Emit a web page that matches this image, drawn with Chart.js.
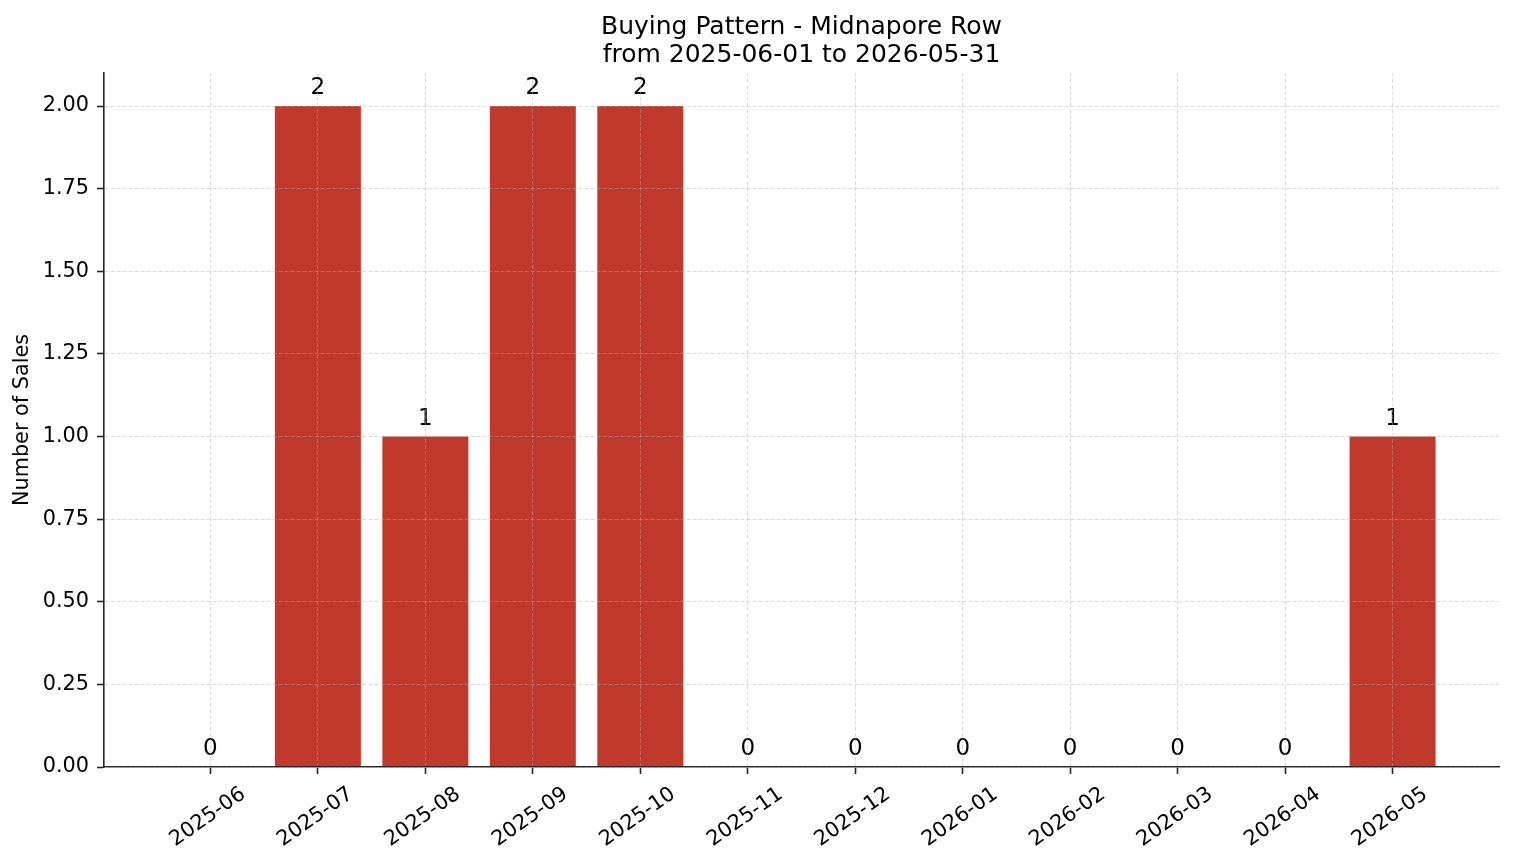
<!DOCTYPE html>
<html>
<head>
<meta charset="utf-8">
<title>Buying Pattern - Midnapore Row</title>
<script src="https://cdn.jsdelivr.net/npm/chart.js@4/dist/chart.umd.min.js"></script>
<style>
  html, body { margin: 0; padding: 0; background: #fff; }
  canvas { display: block; }
</style>
</head>
<body>
<canvas id="grafico" width="1514" height="863"></canvas>
<script>
  // datos
  const meses = ['2025-06', '2025-07', '2025-08', '2025-09', '2025-10', '2025-11',
                 '2025-12', '2026-01', '2026-02', '2026-03', '2026-04', '2026-05'];
  const ventas = [0, 2, 1, 2, 2, 0, 0, 0, 0, 0, 0, 1];
  const yTicks = [0, 0.25, 0.5, 0.75, 1, 1.25, 1.5, 1.75, 2];
  const tituloLineas = ['Buying Pattern - Midnapore Row', 'from 2025-06-01 to 2026-05-31'];

  const FONT = "'DejaVu Sans', 'Liberation Sans', sans-serif";
  const ROJO = '#c0392b';
  const EJE = '#262626';
  const GRID = 'rgba(176,176,176,0.45)';

  // titulo centrado sobre el area del grafico
  const tituloPlugin = {
    id: 'tituloCentrado',
    afterDraw(chart) {
      const { ctx, chartArea: { left, right } } = chart;
      const cx = (left + right) / 2;
      ctx.save();
      ctx.fillStyle = '#000';
      ctx.font = '25px ' + FONT;
      ctx.textAlign = 'center';
      ctx.textBaseline = 'alphabetic';
      ctx.fillText(tituloLineas[0], cx, 34);
      ctx.fillText(tituloLineas[1], cx, 62);
      ctx.restore();
    }
  };

  // etiquetas de valor encima de cada barra
  const valoresPlugin = {
    id: 'valoresBarras',
    afterDatasetsDraw(chart) {
      const { ctx } = chart;
      const meta = chart.getDatasetMeta(0);
      ctx.save();
      ctx.fillStyle = '#000';
      ctx.font = '23px ' + FONT;
      ctx.textAlign = 'center';
      ctx.textBaseline = 'alphabetic';
      meta.data.forEach((bar, i) => {
        ctx.fillText(String(ventas[i]), bar.x, bar.y - 12);
      });
      ctx.restore();
    }
  };

  const ctx = document.getElementById('grafico').getContext('2d');
  new Chart(ctx, {
    type: 'bar',
    data: {
      datasets: [{
        label: 'Sales',
        data: ventas.map((v, i) => ({ x: i, y: v })),
        backgroundColor: ROJO,
        borderWidth: 0,
        barPercentage: 0.8,
        categoryPercentage: 1.0
      }]
    },
    options: {
      responsive: false,
      animation: false,
      layout: { padding: { top: 73, right: 15, left: 0, bottom: 0 } },
      scales: {
        x: {
          type: 'linear',
          min: -0.99,
          max: 11.99,
          offset: false,
          afterBuildTicks: (scale) => { scale.ticks = meses.map((_, i) => ({ value: i })); },
          afterFit: (scale) => { scale.height = 96; },
          grid: {
            offset: false,
            z: 1,
            color: GRID,
            lineWidth: 1,
            tickLength: 7,
            tickColor: EJE,
            tickWidth: 1.6
          },
          border: { display: true, color: EJE, width: 1.6, dash: [4, 2], z: 1 },
          ticks: {
            autoSkip: false,
            maxRotation: 35,
            minRotation: 35,
            labelOffset: 33,
            padding: 8,
            color: '#000',
            font: { family: FONT, size: 20.8 },
            callback: (v) => meses[v] ?? ''
          }
        },
        y: {
          min: 0,
          max: 2.1,
          afterBuildTicks: (scale) => { scale.ticks = yTicks.map(v => ({ value: v })); },
          afterFit: (scale) => { scale.width = 104; },
          grid: {
            z: 1,
            color: GRID,
            lineWidth: 1,
            tickLength: 7,
            tickColor: EJE,
            tickWidth: 1.6
          },
          border: { display: true, color: EJE, width: 1.6, dash: [4, 2], z: 1 },
          ticks: {
            padding: 8,
            color: '#000',
            font: { family: FONT, size: 20.8 },
            callback: (v) => Number(v).toFixed(2)
          },
          title: {
            display: true,
            text: 'Number of Sales',
            color: '#000',
            font: { family: FONT, size: 20.8 },
            padding: { top: 10, bottom: 0 }
          }
        }
      },
      plugins: {
        legend: { display: false },
        tooltip: { enabled: false },
        title: { display: false }
      }
    },
    plugins: [tituloPlugin, valoresPlugin]
  });
</script>
</body>
</html>
